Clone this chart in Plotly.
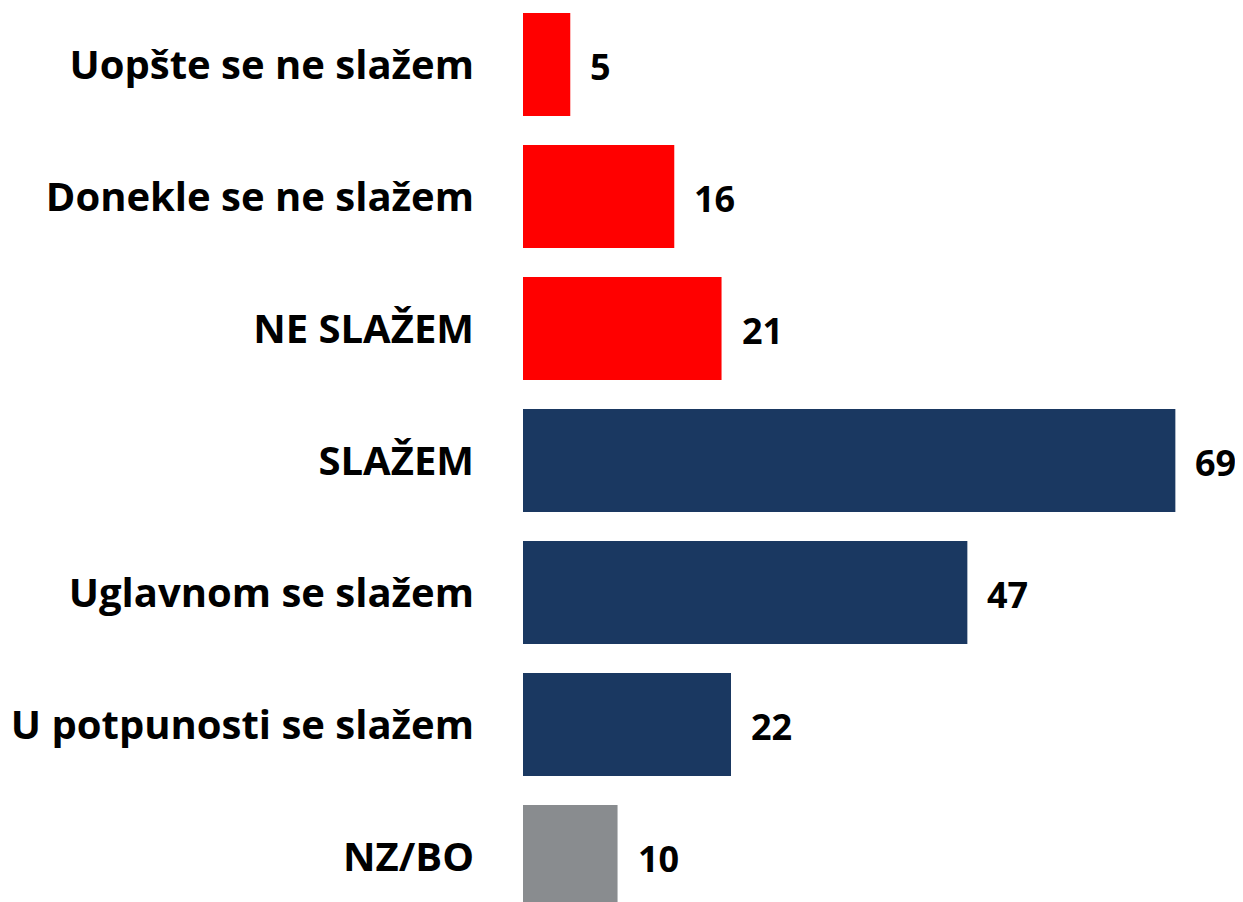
import plotly.graph_objects as go

kategorije = ['Uopšte se ne slažem', 'Donekle se ne slažem', 'NE SLAŽEM', 'SLAŽEM',
              'Uglavnom se slažem', 'U potpunosti se slažem', 'NZ/BO']
vrednosti = [5, 16, 21, 69, 47, 22, 10]
boje = ['#FF0000', '#FF0000', '#FF0000', '#1A3861', '#1A3861', '#1A3861', '#898C8F']

fig = go.Figure(go.Bar(
    x=vrednosti,
    y=kategorije,
    orientation='h',
    marker=dict(color=boje, line=dict(width=0)),
))

# brojke desno od stubića
for k, v in zip(kategorije, vrednosti):
    fig.add_annotation(x=v, y=k, text=str(v), showarrow=False,
                       xanchor='left', xshift=18, yshift=-2,
                       font=dict(family='Open Sans', size=36, color='black', weight='bold'))

fig.update_layout(
    width=1243, height=902,
    margin=dict(l=515, r=0, t=0, b=0),
    plot_bgcolor='white', paper_bgcolor='white',
    bargap=0.22,
    showlegend=False,
    font=dict(family='Open Sans', size=40, color='black', weight='bold'),
)
fig.update_xaxes(range=[0, 77.0], visible=False)
fig.update_yaxes(categoryorder='array', categoryarray=kategorije,
                 range=[6.405, -0.428], showgrid=False, showline=False,
                 zeroline=False, ticks='', ticklabelstandoff=48)

fig.write_html("out.html")
